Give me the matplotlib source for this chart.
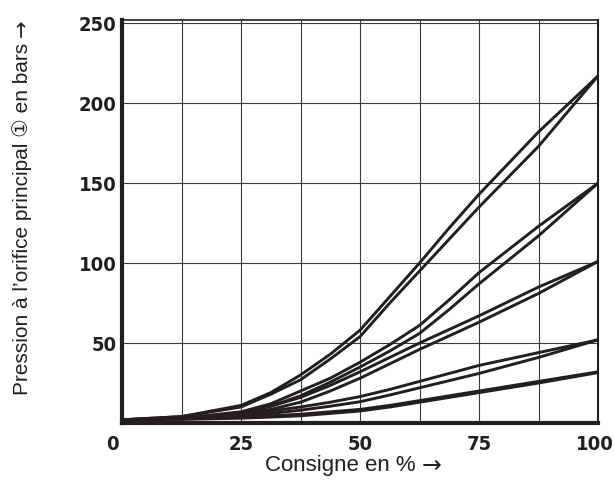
import matplotlib
matplotlib.use('Agg')
import matplotlib.pyplot as plt
import matplotlib.transforms as mtransforms

# setpoint in %
consigne = [0, 12.5, 25, 31.25, 37.5, 43.75, 50, 56.25, 62.5, 68.75, 75, 87.5, 100]

# pressure curves (bars), two branches per range (hysteresis)
p215_up = [2, 4, 11, 19, 30, 43, 58, 79, 100, 122, 143, 182, 217]
p215_dn = [2, 4, 10, 18, 27, 40, 54, 75, 95, 115, 135, 173, 217]
p150_up = [2, 3, 7, 12, 20, 28, 38, 49, 61, 77, 94, 123, 150]
p150_dn = [2, 3, 6, 10.5, 17, 25.5, 35, 45, 56, 71, 87, 117, 150]
p100_up = [2, 3, 6, 10.5, 16, 23.5, 32, 41, 50, 58.5, 67, 85, 101]
p100_dn = [2, 3, 5, 8.5, 13, 20, 28, 37, 46, 54.5, 63, 81, 101]
p50_up = [2, 3, 5, 7.5, 10, 13, 16.5, 21, 26, 31, 36, 44, 52]
p50_dn = [2, 3, 4, 6, 8, 10.5, 13.3, 17.5, 22, 26.5, 31, 41, 52]
p30_up = [2, 2.5, 3.5, 4.5, 5.5, 7, 8.5, 11, 14, 17, 20, 26, 32]
p30_dn = [2, 2.3, 3, 3.7, 4.5, 6, 7.5, 10, 13, 16, 19, 25, 31.5]

curves = [p215_up, p215_dn, p150_up, p150_dn, p100_up, p100_dn,
          p50_up, p50_dn, p30_up, p30_dn]

x_grid = [12.5, 25, 37.5, 50, 62.5, 75, 87.5]
x_ticks = [0, 25, 50, 75, 100]
y_ticks = [50, 100, 150, 200, 250]

ink = '#231f20'
fig = plt.figure(figsize=(6.14, 4.92), dpi=100)
ax = fig.add_axes([122/614, 1-423/492, 476/614, 403/492])

# grid: vertical every 12.5 %, horizontal every 50 bars
for gx in x_grid:
    ax.axvline(gx, color='#3a3a3a', lw=0.8, zorder=1)
for gy in y_ticks:
    ax.axhline(gy, color='#3a3a3a', lw=0.8, zorder=1)

for c in curves:
    ax.plot(consigne, c, color=ink, lw=2.1, zorder=3,
            solid_capstyle='butt', solid_joinstyle='round')

ax.set_xlim(0, 100)
ax.set_ylim(0, 252)

ax.set_xticks(x_ticks)
ax.set_yticks(y_ticks)
ax.set_xticklabels([str(t) for t in x_ticks])
ax.set_yticklabels([str(t) for t in y_ticks])
ax.tick_params(length=0, labelsize=14.5, colors=ink)
ax.tick_params(axis='x', pad=9)
ax.tick_params(axis='y', pad=4)
for lab in ax.get_xticklabels() + ax.get_yticklabels():
    lab.set_family('DejaVu Sans')
    lab.set_fontstretch('condensed')
    lab.set_fontweight('bold')
# the shared "0" sits left of the corner, "100" kept inside the frame
xl = ax.get_xticklabels()
xl[0].set_transform(xl[0].get_transform() +
                    mtransforms.ScaledTranslation(-0.1, 0, fig.dpi_scale_trans))
xl[-1].set_transform(xl[-1].get_transform() +
                     mtransforms.ScaledTranslation(-0.03, 0, fig.dpi_scale_trans))

for side, w in [('left', 3.0), ('bottom', 3.0), ('top', 1.2), ('right', 1.5)]:
    ax.spines[side].set_linewidth(w)
    ax.spines[side].set_color(ink)
    ax.spines[side].set_zorder(4)

# axis titles: words in Liberation Sans, arrows in DejaVu Sans
lab_font = ['Liberation Sans', 'DejaVu Sans']
xt = fig.text(265/614, 1-466/492, 'Consigne en %', ha='left', va='center',
              fontsize=16, color=ink, family=lab_font)
yt = fig.text(22/614, 1-395/492, 'Pression \u00e0 l\u2019orifice principal \u2460 en bars',
              rotation=90, ha='center', va='bottom', fontsize=15, color=ink,
              family=lab_font)
fig.canvas.draw()
r = fig.canvas.get_renderer()
bx = xt.get_window_extent(r)
by = yt.get_window_extent(r)
fig.text((bx.x1 + 6)/614, 1-466/492, '\u2192', ha='left', va='center',
         fontsize=17, color=ink, family='DejaVu Sans')
fig.text(22/614, (by.y1 + 6)/492, '\u2192', rotation=90, ha='center', va='bottom',
         fontsize=15, color=ink, family='DejaVu Sans')

fig.savefig('out.png', dpi=100)
